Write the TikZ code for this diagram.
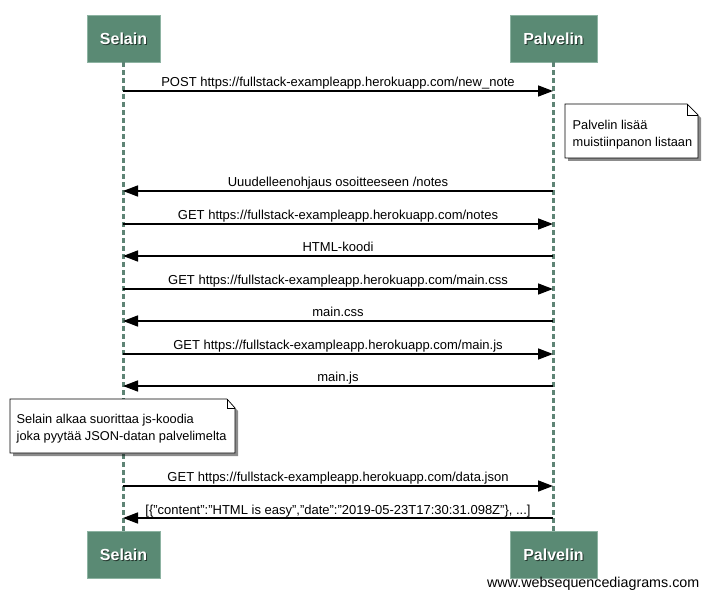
\documentclass[tikz,border=0pt]{standalone}
\usepackage{fontspec}
\setmainfont{Liberation Sans}
\usetikzlibrary{arrows.meta}
\definecolor{actorfill}{HTML}{5A8A74}
\definecolor{actoredge}{HTML}{8DB3A2}
\definecolor{lifecol}{HTML}{5E8475}
\tikzset{
  actor/.style={fill=actorfill, draw=actoredge, line width=0.8pt, minimum height=47pt, inner sep=0pt},
  actortext/.style={text=white, font=\fontsize{16}{16}\selectfont\bfseries},
  life/.style={draw=lifecol, line width=2.5pt, dash pattern=on 5pt off 3pt},
  msg/.style={draw=black, line width=1.6pt, -{Triangle[length=15pt,width=11pt]}},
  lbl/.style={font=\fontsize{13}{13}\selectfont, inner sep=0pt, anchor=base, yshift=4.5pt},
  notetext/.style={font=\fontsize{12.8}{13}\selectfont, inner sep=0pt, anchor=base west},
  noteshadow/.style={fill=black, opacity=0.45},
  notebox/.style={draw=black, fill=white, line width=0.7pt}
}
\begin{document}
\begin{tikzpicture}[x=1pt,y=-1pt]
\useasboundingbox (0,0) rectangle (707,599);
% actor boxes
\node[actor, minimum width=73pt] (selT) at (123.5,38.5) {};
\node[actor, minimum width=87pt] (palT) at (553.5,38.5) {};
\node[actor, minimum width=73pt] (selB) at (123.5,555) {};
\node[actor, minimum width=87pt] (palB) at (553.5,555) {};
\foreach \n/\t in {selT/Selain,palT/Palvelin,selB/Selain,palB/Palvelin}{
  \node[actortext, text=black!60!actorfill] at ([xshift=1pt,yshift=-1pt]\n.center) {\t};
  \node[actortext] (\n-t) at (\n.center) {\t};
}
% lifelines
\draw[life] (selT.south) -- (selB.north);
\draw[life] (palT.south) -- (palB.north);
% message coordinates
\foreach \k/\y in {a/91,b/191,c/224,d/256,e/289,f/321,g/354,h/386,i/486,j/518}{
  \coordinate (s\k) at (123,\y);
  \coordinate (p\k) at (553,\y);
}
\draw[msg] (sa) -- (pa) node[lbl, pos=0.5] {POST https://fullstack-exampleapp.herokuapp.com/new\_note};
\draw[msg] (pb) -- (sb) node[lbl, pos=0.5] {Uuudelleenohjaus osoitteeseen /notes};
\draw[msg] (sc) -- (pc) node[lbl, pos=0.5] {GET https://fullstack-exampleapp.herokuapp.com/notes};
\draw[msg] (pd) -- (sd) node[lbl, pos=0.5] {HTML-koodi};
\draw[msg] (se) -- (pe) node[lbl, pos=0.5] {GET https://fullstack-exampleapp.herokuapp.com/main.css};
\draw[msg] (pf) -- (sf) node[lbl, pos=0.5] {main.css};
\draw[msg] (sg) -- (pg) node[lbl, pos=0.5] {GET https://fullstack-exampleapp.herokuapp.com/main.js};
\draw[msg] (ph) -- (sh) node[lbl, pos=0.5] {main.js};
\draw[msg] (si) -- (pi) node[lbl, pos=0.5] {GET https://fullstack-exampleapp.herokuapp.com/data.json};
\draw[msg] (pj) -- (sj) node[lbl, pos=0.5, yshift=-1pt] {[\{"content":"HTML is easy","date":"2019-05-23T17:30:31.098Z"\}, ...]};
% note 1
\fill[noteshadow] (568,107) -- (690,107) -- (701,118) -- (701,161) -- (568,161) -- cycle;
\draw[notebox] (565,104) -- (687,104) -- (698,115) -- (698,158) -- (565,158) -- cycle;
\draw[line width=0.7pt] (687,104) -- (687,115) -- (698,115);
\node[notetext] (n1a) at (572.5,129.5) {Palvelin lisää};
\node[notetext] (n1b) at (572.5,146.5) {muistiinpanon listaan};
% note 2
\fill[noteshadow] (13,402) -- (230,402) -- (238,411) -- (238,456) -- (13,456) -- cycle;
\draw[notebox] (10,399) -- (227,399) -- (235,408) -- (235,453) -- (10,453) -- cycle;
\draw[line width=0.7pt] (227,399) -- (227,408) -- (235,408);
\node[notetext] (n2a) at (16.5,423) {Selain alkaa suorittaa js-koodia};
\node[notetext] (n2b) at (16.5,440) {joka pyytää JSON-datan palvelimelta};
% watermark
\node[font=\fontsize{14.3}{14.3}\selectfont, anchor=base east, inner sep=0pt] (wm) at (699.5,587.5) {www.websequencediagrams.com};
\end{tikzpicture}
\end{document}
